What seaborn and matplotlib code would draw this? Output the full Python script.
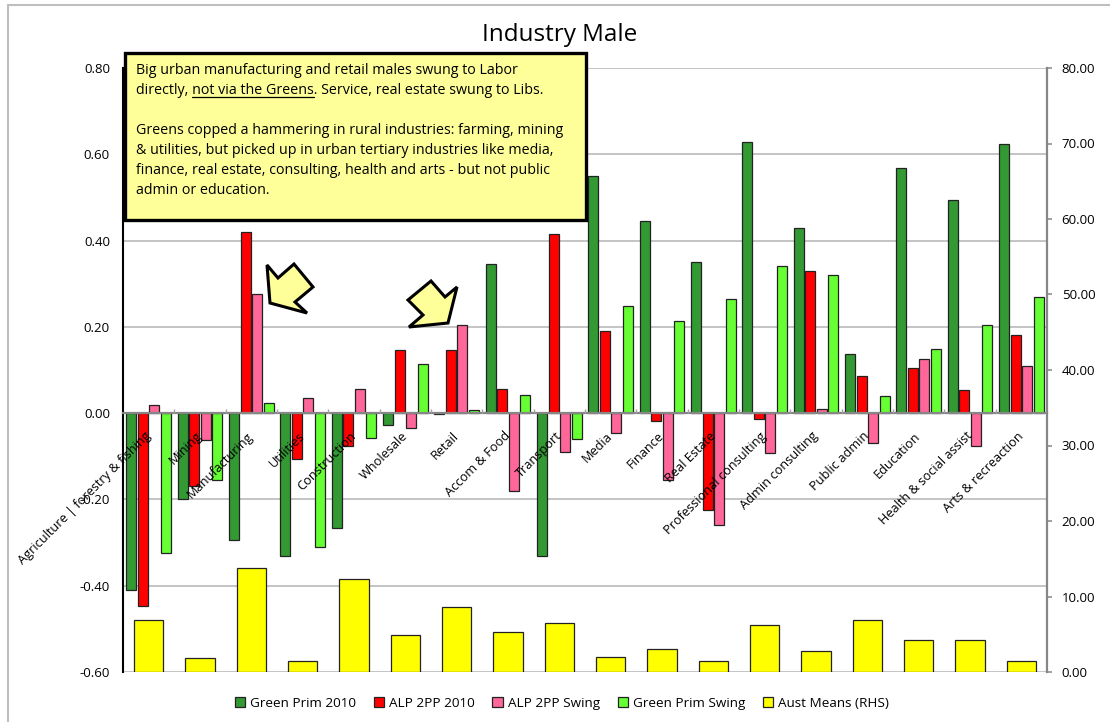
import matplotlib
matplotlib.use("Agg")
import matplotlib.pyplot as plt
from matplotlib.patches import Polygon, Rectangle
from matplotlib.lines import Line2D
import seaborn as sns
import pandas as pd
import numpy as np

categories = ["Agriculture | forestry & fishing", "Mining", "Manufacturing", "Utilities", "Construction",
              "Wholesale", "Retail", "Accom & Food", "Transport", "Media", "Finance", "Real Estate",
              "Professional consulting", "Admin consulting", "Public admin", "Education",
              "Health & social assist", "Arts & recreaction"]
green_prim_2010 = [-0.41, -0.20, -0.295, -0.33, -0.267, -0.027, -0.003, 0.345, -0.332, 0.55, 0.445, 0.35,
                   0.628, 0.43, 0.138, 0.568, 0.495, 0.625]
alp_2pp_2010 = [-0.447, -0.17, 0.42, -0.107, -0.077, 0.146, 0.146, 0.057, 0.416, 0.19, -0.019, -0.225,
                -0.013, 0.33, 0.086, 0.104, 0.054, 0.18]
alp_2pp_swing = [0.018, -0.062, 0.276, 0.036, 0.055, -0.034, 0.204, -0.18, -0.09, -0.047, -0.155, -0.26,
                 -0.092, 0.009, -0.07, 0.125, -0.077, 0.109]
green_prim_swing = [-0.325, -0.155, 0.023, -0.31, -0.058, 0.113, 0.007, 0.041, -0.06, 0.248, 0.214, 0.264,
                    0.34, 0.32, 0.039, 0.148, 0.204, 0.269]
aust_means = [6.9, 1.9, 13.8, 1.5, 12.3, 4.9, 8.6, 5.3, 6.5, 2.0, 3.0, 1.5, 6.2, 2.8, 6.9, 4.3, 4.3, 1.5]
series_names = ["Green Prim 2010", "ALP 2PP 2010", "ALP 2PP Swing", "Green Prim Swing"]
rhs_name = "Aust Means (RHS)"
colors = ["#339933", "#FF0000", "#FF6699", "#66FF33"]
left_ticks = [-0.6, -0.4, -0.2, 0.0, 0.2, 0.4, 0.6, 0.8]
right_ticks = [0, 10, 20, 30, 40, 50, 60, 70, 80]
title = "Industry Male"

W, H = 1110, 722
FONT = "Open Sans"
sns.set_theme(style="white")
plt.rcParams["font.family"] = [FONT, "DejaVu Sans"]

fig = plt.figure(figsize=(W / 100, H / 100), dpi=100, facecolor="white")
L, R, T, B = 123, 1047, 68, 672
ax = fig.add_axes([L / W, 1 - B / H, (R - L) / W, (B - T) / H])

def fx(x): return x / W
def fy(y): return 1 - y / H

fig.add_artist(Rectangle((fx(8), fy(740)), fx(1140), fy(5) - fy(740), transform=fig.transFigure,
                         fill=False, ec="#BEBEBE", lw=1.5))

long_df = pd.DataFrame({
    "cat": categories * 4,
    "val": green_prim_2010 + alp_2pp_2010 + alp_2pp_swing + green_prim_swing,
    "series": [n for n in series_names for _ in categories],
})
sns.barplot(data=long_df, x="cat", y="val", hue="series", order=categories, hue_order=series_names,
            palette=colors, saturation=1, width=0.904, gap=0.137, edgecolor="#222222", linewidth=0.9,
            ax=ax, zorder=1)
ax.set_axisbelow(False)
ax.set_xlim(-0.5, len(categories) - 0.5)
ax.set_ylim(-0.6, 0.8)
ax.set_xlabel(""); ax.set_ylabel("")
ax.grid(False)
for v in left_ticks:
    if v != 0:
        ax.axhline(v, color="#B4B4B4", lw=1.1, zorder=0.5)
ax.set_yticks(left_ticks)
ax.set_yticklabels([f"{v:.2f}" for v in left_ticks], fontsize=9.5, color="black", fontweight="medium")
ax.tick_params(axis="y", length=0, pad=9.4, left=False)
ax.spines["top"].set_visible(False)
ax.spines["right"].set_visible(False)
ax.spines["left"].set_color("black"); ax.spines["left"].set_linewidth(1.5)
ax.spines["bottom"].set_position(("data", 0))
ax.spines["bottom"].set_color("#868686"); ax.spines["bottom"].set_linewidth(1.6)
ax.set_xticks(range(len(categories)))
ax.set_xticklabels(categories, rotation=45, ha="right", va="center", rotation_mode="anchor",
                   fontsize=9.2, color="black")
ax.tick_params(axis="x", which="major", length=0, pad=15, bottom=False)
ax.set_xticks(np.arange(0.5, len(categories) - 0.5), minor=True)
ax.tick_params(axis="x", which="minor", direction="in", length=3, color="#A0A0A0", width=1, bottom=True)

ax2 = ax.twinx()
sns.barplot(x=categories, y=aust_means, order=categories, color="#FFFF00", width=0.57,
            edgecolor="#222222", linewidth=0.9, ax=ax2, label=rhs_name, saturation=1)
ax2.set_xlim(-0.5, len(categories) - 0.5)
ax2.set_ylim(0, 80)
ax2.set_yticks(right_ticks)
ax2.set_yticklabels([f"{v:.2f}" for v in right_ticks], fontsize=9.5, color="black", fontweight="medium")
ax2.tick_params(axis="y", direction="out", length=3.6, width=1.1, color="#868686", pad=7, right=True)
ax2.set_ylabel("")
for s in ("top", "left", "bottom"):
    ax2.spines[s].set_visible(False)
ax2.spines["right"].set_color("#868686"); ax2.spines["right"].set_linewidth(1.6)

h1, l1 = ax.get_legend_handles_labels()
h2, l2 = ax2.get_legend_handles_labels()
if ax.get_legend(): ax.get_legend().remove()
if ax2.get_legend(): ax2.get_legend().remove()
fig.legend(h1 + h2, l1 + l2, loc="center", bbox_to_anchor=(fx(562), fy(703.5)), ncol=5, frameon=False,
           fontsize=9.7, handlelength=0.75, handleheight=0.75, handletextpad=0.4, columnspacing=1.3,
           labelcolor="black")

fig.text(fx(560), fy(35), title, ha="center", va="center", fontsize=17.5, color="black")

# annotation box and callout arrows (figure pixels)
box = Rectangle((fx(125), fy(220)), fx(461), fy(53) - fy(220), transform=fig.transFigure,
                fc="#FFFF99", ec="black", lw=2.4, zorder=10)
fig.add_artist(box)
lines = [
    "Big urban manufacturing and retail males swung to Labor",
    "directly, not via the Greens. Service, real estate swung to Libs.",
    "",
    "Greens copped a hammering in rural industries: farming, mining",
    "& utilities, but picked up in urban tertiary industries like media,",
    "finance, real estate, consulting, health and arts - but not public",
    "admin or education.",
]
ys = [70, 90, 110, 131, 151, 171, 190]
fs = 10.3
for s, y in zip(lines, ys):
    if s:
        fig.text(fx(136), fy(y), s, fontsize=fs, va="center", ha="left", color="black", zorder=11, fontweight="medium")

renderer = fig.canvas.get_renderer()
def width(s):
    t = fig.text(0, 0, s, fontsize=fs, fontweight="medium")
    w = t.get_window_extent(renderer).width
    t.remove()
    return w
x0 = 136 + width("directly, ")
x1 = 136 + width("directly, not via the Greens")
fig.add_artist(Line2D([fx(x0), fx(x1)], [fy(97), fy(97)], color="black", lw=0.9, zorder=11, transform=fig.transFigure))

arrow1 = [(267, 265), (278, 278), (294, 264), (313, 287), (295, 302), (307, 313), (270, 303)]
arrow2 = [(457, 287), (448, 323), (409, 327), (423, 315), (408, 300), (431, 281), (445, 297)]
for poly in (arrow1, arrow2):
    fig.add_artist(Polygon([(fx(x), fy(y)) for x, y in poly], closed=True, transform=fig.transFigure,
                           fc="#FFFF99", ec="black", lw=2.2, zorder=10))

fig.savefig("out.png", dpi=100)
